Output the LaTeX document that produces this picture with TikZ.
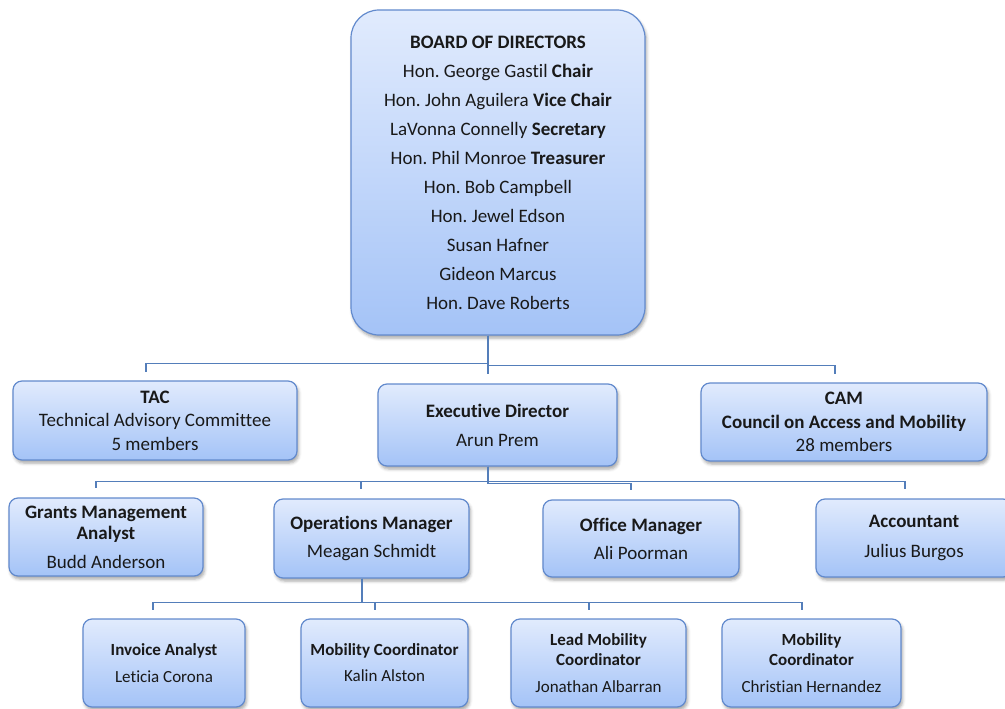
\documentclass[tikz,border=0pt]{standalone}
\usepackage{fontspec}
\setmainfont{Carlito}[Ligatures=NoCommon]
\usetikzlibrary{shadows.blur}
\definecolor{boxtop}{RGB}{225,235,253}
\definecolor{boxbot}{RGB}{164,195,247}
\definecolor{boxline}{RGB}{98,138,205}
\definecolor{connc}{RGB}{84,126,186}
\definecolor{txt}{RGB}{25,25,25}
\frenchspacing
\begin{document}
\begin{tikzpicture}[x=1pt,y=-1pt,
  box/.style={draw=boxline, line width=1.2pt, top color=boxtop, bottom color=boxbot,
    rounded corners=9pt, align=center, inner sep=0pt, text=txt,
    blur shadow={shadow xshift=1.5pt, shadow yshift=-3pt, shadow opacity=35, shadow blur radius=3pt}},
  conn/.style={draw=connc, line width=1.1pt},
  big/.style={font=\fontsize{19}{#1}\selectfont},
  small/.style={font=\fontsize{17}{#1}\selectfont},
]
\useasboundingbox (0,0) rectangle (1005,709);

% Board
\node[box, minimum width=294pt, minimum height=325pt, rounded corners=28pt, big=29] (board) at (498,172.5)
  {\textbf{BOARD OF DIRECTORS}\\
   Hon. George Gastil \textbf{Chair}\\
   Hon. John Aguilera \textbf{Vice Chair}\\
   LaVonna Connelly \textbf{Secretary}\\
   Hon. Phil Monroe \textbf{Treasurer}\\
   Hon. Bob Campbell\\
   Hon. Jewel Edson\\
   Susan Hafner\\
   Gideon Marcus\\
   Hon. Dave Roberts};

% Level 1
\node[box, minimum width=284pt, minimum height=79pt, big=23.5] (tac) at (155,420.5)
  {\textbf{TAC}\\ Technical Advisory Committee\\ 5 members};
\node[box, minimum width=239pt, minimum height=82pt, big=29] (exec) at (497.5,425)
  {\textbf{Executive Director}\\ Arun Prem};
\node[box, minimum width=286pt, minimum height=78pt, big=23.5] (cam) at (844,422)
  {\textbf{CAM}\\ \textbf{Council on Access and Mobility}\\ 28 members};

% Level 2
\node[box, minimum width=194pt, minimum height=78pt, big=21] (grants) at (106,537)
  {\textbf{Grants Management}\\ \textbf{Analyst}\\[8pt] Budd Anderson};
\node[box, minimum width=195pt, minimum height=79pt, big=28] (ops) at (371.5,538.5)
  {\textbf{Operations Manager}\\ Meagan Schmidt};
\node[box, minimum width=196pt, minimum height=77pt, big=28] (office) at (641,538.5)
  {\textbf{Office Manager}\\ Ali Poorman};
\node[box, minimum width=196pt, minimum height=78pt, big=30] (acct) at (914,538)
  {\textbf{Accountant}\\ Julius Burgos};

% Level 3
\node[box, minimum width=162pt, minimum height=88pt, small=27] (inv) at (164,663)
  {\textbf{Invoice Analyst}\\ Leticia Corona};
\node[box, minimum width=167pt, minimum height=88pt, small=26] (kalin) at (384.5,663)
  {\textbf{Mobility Coordinator}\\ Kalin Alston};
\node[box, minimum width=175pt, minimum height=88pt, small=20] (lead) at (598.5,663)
  {\textbf{Lead Mobility}\\ \textbf{Coordinator}\\[7pt] Jonathan Albarran};
\node[box, minimum width=179pt, minimum height=88pt, small=20] (chris) at (811.5,663)
  {\textbf{Mobility}\\ \textbf{Coordinator}\\[7pt] Christian Hernandez};

% Connectors: board
\draw[conn, shorten >=8pt] ([xshift=-10pt]board.south) -- ++(0,28) -| ([xshift=-9pt]tac.north);
\draw[conn, shorten >=8pt] ([xshift=-10pt]board.south) -- ++(0,30) -| ([xshift=-9pt]cam.north);
\draw[conn, shorten >=9pt] ([xshift=-10pt]board.south) -- ([xshift=-9.5pt]exec.north);

% Connectors: executive director
\draw[conn, shorten >=9pt] ([xshift=-9.5pt]exec.south) -- ++(0,15) -| ([xshift=-10pt]grants.north);
\draw[conn, shorten >=9pt] ([xshift=-9.5pt]exec.south) -- ++(0,15) -| ([xshift=-10.5pt]ops.north);
\draw[conn, shorten >=9pt] ([xshift=-9.5pt]exec.south) -- ++(0,17) -| ([xshift=-10pt]office.north);
\draw[conn, shorten >=9pt] ([xshift=-9.5pt]exec.south) -- ++(0,15) -| ([xshift=-9pt]acct.north);

% Connectors: operations manager
\draw[conn, shorten >=8pt] ([xshift=-9.5pt]ops.south) -- ++(0,24) -| ([xshift=-11pt]inv.north);
\draw[conn, shorten >=8pt] ([xshift=-9.5pt]ops.south) -- ++(0,24) -| ([xshift=-9.5pt]kalin.north);
\draw[conn, shorten >=8pt] ([xshift=-9.5pt]ops.south) -- ++(0,24) -| ([xshift=-9.5pt]lead.north);
\draw[conn, shorten >=8pt] ([xshift=-9.5pt]ops.south) -- ++(0,24) -| ([xshift=-9.5pt]chris.north);
\end{tikzpicture}
\end{document}
